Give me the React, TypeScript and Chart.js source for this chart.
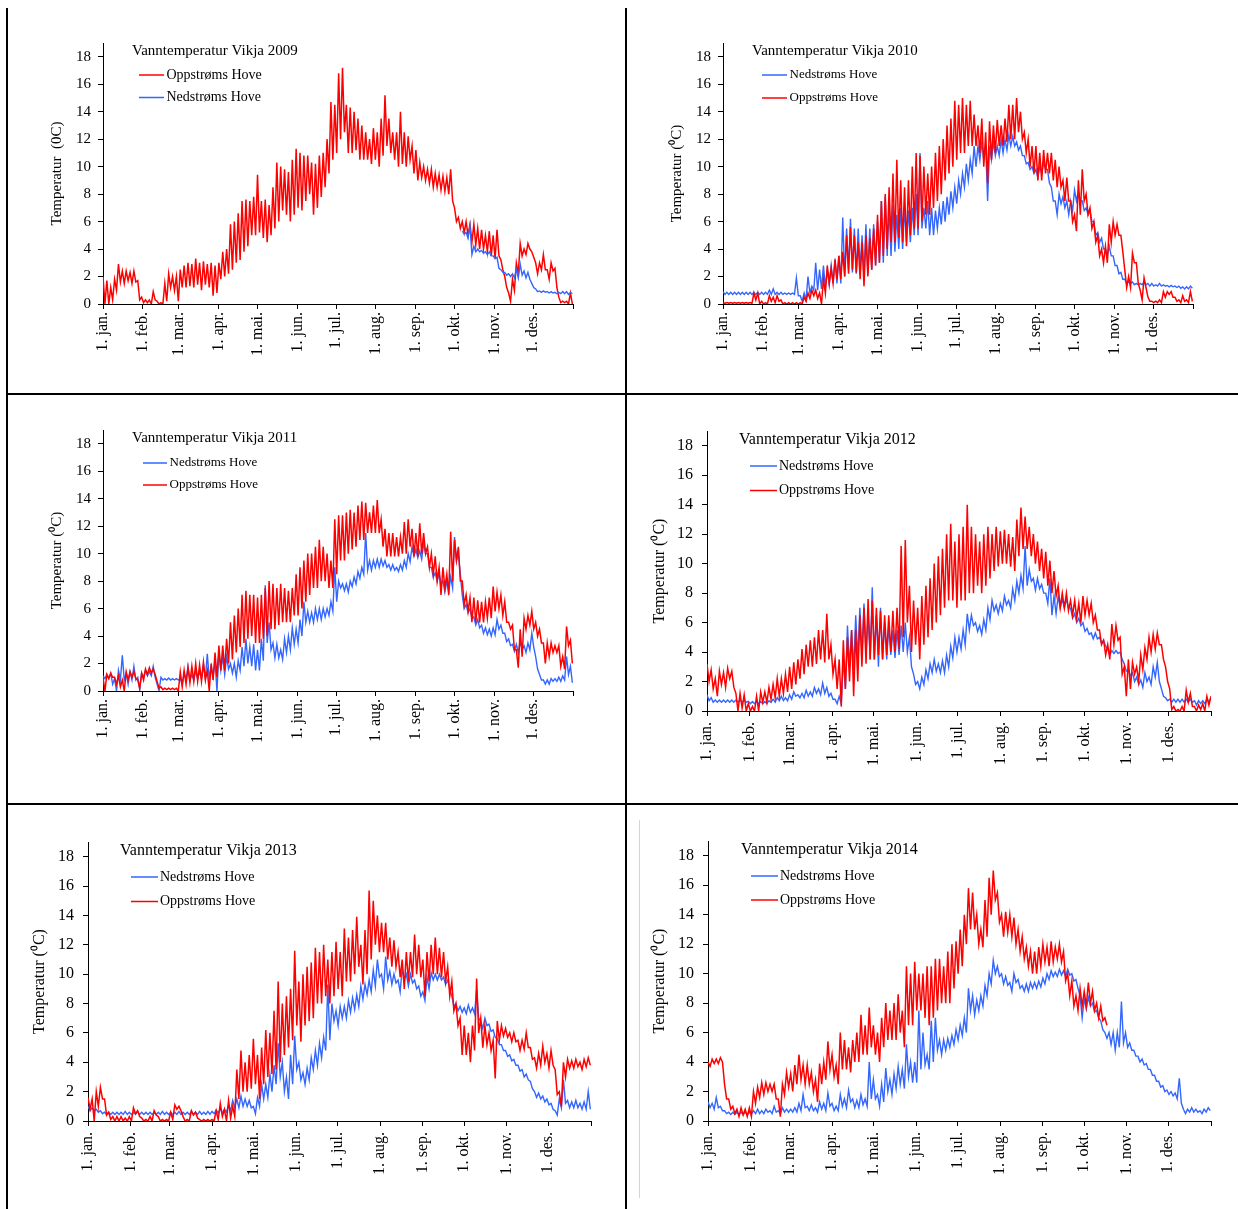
import React, { useEffect, useRef } from "react";
import { Chart, registerables } from "chart.js";

Chart.register(...registerables);

const FONT = '"Liberation Serif", "Times New Roman", Times, serif';
const STEP_DAYS = 3; // one high/low reading pair every 3rd day from 1 Jan
const MONTH_LABELS = ["1. jan.", "1. feb.", "1. mar.", "1. apr.", "1. mai.", "1. jun.", "1. jul.", "1. aug.", "1. sep.", "1. okt.", "1. nov.", "1. des."];
const MONTH_STARTS = [0, 31, 59, 90, 120, 151, 181, 212, 243, 273, 304, 334];
const MONTH_STARTS_LEAP = [0, 31, 60, 91, 121, 152, 182, 213, 244, 274, 305, 335];
const YEAR_END = 365;
const LEAP_YEAR_END = 366;
const Y_MAX = 19;
const Y_STEP = 2;
const UP_LABEL = "Oppstrøms Hove";
const DOWN_LABEL = "Nedstrøms Hove";
const RED = "#FF0000";
const BLUE = "#3366FF";

// ---- 2009 ----
const UP_2009_HIGH = [
  2.0, 1.7, 1.2, 1.8, 2.9, 2.4, 2.4, 2.3, 2.4, 1.7,
  0.5, 0.3, 0.3, 0.9, 0.2, 0.1, 1.5, 2.2, 2.0, 2.0,
  2.5, 2.8, 3.0, 2.9, 3.3, 3.0, 3.1, 2.9, 3.0, 2.8,
  3.0, 3.8, 4.0, 5.8, 6.0, 6.6, 7.5, 7.6, 7.5, 7.8,
  9.4, 7.5, 7.6, 7.2, 8.5, 10.3, 10.0, 9.8, 9.6, 10.5,
  11.3, 11.0, 10.8, 10.8, 10.3, 10.2, 10.8, 11.0, 12.0, 14.7,
  14.5, 16.8, 17.2, 14.5, 14.3, 14.0, 13.5, 13.0, 12.5, 12.0,
  12.8, 12.5, 13.5, 15.2, 13.5, 12.5, 12.5, 14.0, 12.5, 12.2,
  11.5, 11.2, 10.3, 10.0, 9.8, 9.8, 9.5, 9.4, 9.3, 9.2,
  9.8, 7.0, 6.3, 6.0, 6.0, 5.8, 5.8, 5.5, 5.4, 5.0,
  5.3, 5.0, 5.4, 3.2, 2.0, 0.8, 1.8, 3.0, 4.4, 4.0,
  4.4, 3.8, 3.0, 3.0, 3.6, 2.5, 3.0, 2.6, 0.5, 0.2,
  0.2, 0.8,
];
const UP_2009_LOW = [
  0.0, 0.0, 0.3, 1.0, 1.6, 1.5, 1.7, 1.5, 1.6, 0.3,
  0.1, 0.1, 0.0, 0.3, 0.0, 0.0, 0.2, 1.2, 1.0, 0.2,
  1.2, 1.2, 1.3, 1.2, 1.4, 1.0, 1.4, 1.2, 0.6, 0.8,
  1.8, 2.0, 2.2, 2.5, 3.0, 3.2, 3.8, 4.2, 5.0, 5.0,
  5.2, 4.8, 4.5, 5.0, 5.5, 6.0, 6.8, 6.5, 6.0, 6.5,
  7.0, 6.8, 7.5, 8.0, 6.5, 7.0, 7.8, 8.5, 9.5, 10.5,
  11.0, 12.0, 12.5, 11.0, 11.0, 11.2, 10.5, 10.5, 10.5, 10.2,
  10.5, 10.0, 10.8, 11.5, 11.0, 10.5, 10.0, 10.2, 10.0, 10.5,
  9.5, 9.0, 9.2, 9.0, 8.8, 8.5, 8.5, 8.3, 8.2, 8.0,
  7.5, 6.0, 5.5, 5.2, 5.0, 4.5, 4.3, 4.0, 4.0, 3.8,
  3.5, 3.3, 3.5, 2.5, 1.2, 0.2, 1.0, 2.2, 3.5, 3.6,
  4.0, 3.4, 2.2, 2.5, 2.5, 1.8, 2.4, 1.2, 0.1, 0.1,
  0.0, 0.0,
];
const DOWN_2009_FIRST_DAY = 279;
const DOWN_2009_HIGH = [
  5.3, 5.2, 5.7, 4.2, 4.0, 3.9, 3.8,
  3.8, 3.5, 3.4, 2.5, 2.3, 2.2, 2.2, 2.5, 2.9, 2.4,
  2.3, 1.5, 1.1, 0.95, 0.95, 0.9, 0.9, 0.85, 0.85, 0.9,
  0.9, 0.85,
];
const DOWN_2009_LOW = [
  5.1, 4.8, 3.6, 3.8, 3.8, 3.7, 3.6,
  3.5, 3.3, 2.6, 2.3, 2.1, 2.0, 1.9, 1.9, 2.1, 1.9,
  1.8, 1.2, 0.9, 0.85, 0.85, 0.8, 0.8, 0.75, 0.75, 0.75,
  0.7, 0.75,
];

// ---- 2010 ----
const UP_2010_HIGH = [
  0.1, 0.1, 0.1, 0.1, 0.1, 0.1, 0.1, 0.1, 0.8, 0.8,
  0.2, 0.1, 0.6, 0.5, 0.6, 0.3, 0.1, 0.1, 0.1, 0.1,
  0.1, 0.5, 0.8, 1.0, 1.0, 0.8, 1.8, 2.8, 2.6, 3.2,
  3.5, 3.8, 5.0, 5.6, 5.0, 4.5, 4.5, 5.0, 4.8, 5.5,
  6.5, 7.5, 8.0, 8.5, 9.5, 10.5, 9.0, 8.5, 9.0, 10.0,
  11.0, 10.8, 10.0, 9.5, 10.0, 11.0, 11.5, 12.0, 13.0, 13.5,
  14.8, 14.5, 15.0, 14.5, 14.8, 13.8, 13.0, 13.5, 12.5, 13.3,
  13.0, 13.4, 13.0, 13.5, 14.5, 14.5, 15.0, 14.0, 12.5, 12.0,
  11.5, 11.5, 11.0, 11.2, 11.0, 11.0, 10.5, 10.0, 9.0, 9.2,
  7.5, 6.5, 9.0, 9.8, 8.0, 7.0, 6.0, 5.0, 4.0, 4.2,
  5.8, 6.0, 5.8, 5.0, 2.5, 2.0, 3.7, 3.0, 1.0, 1.9,
  0.5, 0.2, 0.2, 0.3, 0.9, 0.9, 0.9, 0.5, 0.3, 0.6,
  0.3, 0.9,
];
const UP_2010_LOW = [
  0.05, 0.05, 0.05, 0.05, 0.05, 0.05, 0.05, 0.05, 0.3, 0.0,
  0.0, 0.0, 0.2, 0.1, 0.2, 0.0, 0.0, 0.0, 0.0, 0.0,
  0.0, 0.2, 0.4, 0.6, 0.4, 0.0, 0.8, 1.5, 1.5, 1.8,
  1.8, 2.0, 2.2, 2.5, 2.3, 1.8, 1.3, 2.0, 2.5, 2.8,
  3.0, 3.5, 4.0, 4.5, 4.5, 4.8, 4.5, 4.2, 5.0, 5.5,
  5.5, 6.0, 6.5, 6.5, 7.0, 7.5, 8.0, 9.0, 9.5, 10.0,
  10.5, 11.0, 11.0, 11.5, 11.5, 11.5, 11.0, 10.0, 8.8, 10.5,
  11.0, 11.5, 11.5, 11.8, 12.0, 12.0, 12.5, 12.0, 11.0, 10.0,
  9.5, 9.0, 9.0, 9.5, 9.5, 9.0, 8.5, 8.5, 7.5, 7.5,
  6.0, 5.3, 6.5, 7.5, 6.5, 5.5, 4.5, 3.5, 3.0, 3.0,
  4.5, 5.0, 5.0, 3.8, 1.2, 1.2, 3.0, 1.5, 0.3, 1.2,
  0.2, 0.1, 0.1, 0.1, 0.5, 0.7, 0.5, 0.2, 0.1, 0.2,
  0.1, 0.2,
];
const DOWN_2010_HIGH = [
  0.9, 0.85, 0.85, 0.85, 0.85, 0.85, 0.85, 0.85, 0.85, 0.85,
  0.85, 0.85, 1.0, 1.1, 0.85, 0.85, 0.8, 0.8, 0.8, 1.9,
  0.6, 0.8, 2.0, 1.3, 3.0, 2.5, 2.8, 2.5, 2.8, 3.3,
  3.5, 6.3, 5.5, 6.2, 5.5, 5.5, 5.0, 5.8, 5.5, 5.8,
  6.0, 7.5, 7.8, 7.0, 7.2, 6.5, 7.0, 7.0, 6.8, 7.0,
  8.0, 11.0, 7.0, 7.5, 7.0, 6.8, 7.0, 7.5, 7.8, 8.2,
  8.5, 9.0, 9.5, 10.2, 10.5, 11.5, 11.5, 11.8, 11.5, 11.5,
  11.8, 11.5, 12.0, 12.0, 12.3, 12.2, 11.8, 11.5, 10.8, 10.3,
  10.0, 9.8, 10.0, 10.3, 9.8, 8.5, 7.5, 8.0, 7.8, 7.5,
  7.5, 8.3, 8.2, 7.5, 7.0, 6.8, 6.0, 5.2, 4.8, 4.0,
  4.2, 3.5, 2.8, 2.3, 1.8, 1.6, 1.6, 1.5, 1.5, 1.6,
  1.5, 1.5, 1.4, 1.5, 1.4, 1.35, 1.35, 1.3, 1.3, 1.25,
  1.25, 1.3,
];
const DOWN_2010_LOW = [
  0.7, 0.7, 0.7, 0.7, 0.7, 0.7, 0.7, 0.7, 0.7, 0.7,
  0.7, 0.7, 0.7, 0.7, 0.7, 0.7, 0.7, 0.7, 0.7, 0.6,
  0.2, 0.3, 0.8, 1.0, 1.0, 1.1, 1.2, 1.4, 1.5, 1.5,
  1.5, 2.0, 2.5, 2.3, 2.2, 2.5, 2.0, 2.2, 2.5, 2.8,
  3.0, 3.0, 3.5, 3.5, 3.8, 4.0, 4.0, 4.5, 4.5, 5.0,
  5.0, 5.5, 5.5, 5.0, 5.0, 5.5, 5.8, 6.0, 6.5, 7.0,
  7.3, 8.0, 8.5, 9.0, 9.5, 10.0, 10.5, 10.5, 7.5, 10.5,
  10.8, 10.8, 11.0, 11.2, 11.5, 11.5, 11.2, 10.8, 10.2, 9.8,
  9.5, 9.2, 9.5, 9.8, 8.8, 7.5, 6.5, 7.3, 7.0, 6.5,
  6.8, 7.5, 7.5, 6.8, 6.5, 6.0, 5.0, 4.5, 4.0, 3.5,
  3.5, 2.8, 2.2, 1.8, 1.5, 1.5, 1.4, 1.4, 1.4, 1.4,
  1.3, 1.3, 1.3, 1.3, 1.3, 1.25, 1.25, 1.2, 1.15, 1.1,
  1.1, 1.15,
];

// ---- 2011 ----
const UP_2011_HIGH = [
  1.0, 1.2, 1.3, 1.0, 1.1, 0.8, 1.4, 1.4, 1.4, 0.8,
  1.3, 1.6, 1.7, 1.6, 0.7, 0.3, 0.2, 0.2, 0.2, 0.2,
  1.4, 1.5, 1.7, 1.8, 2.0, 1.9, 2.1, 1.5, 2.0, 2.8,
  3.3, 3.3, 3.8, 5.0, 5.5, 6.0, 7.0, 7.3, 7.0, 7.0,
  6.8, 7.0, 7.5, 8.0, 7.8, 7.5, 7.8, 7.5, 7.3, 7.5,
  8.5, 9.0, 9.5, 10.0, 10.0, 10.5, 11.0, 10.5, 10.0, 9.5,
  12.5, 12.8, 12.8, 13.0, 13.2, 13.0, 13.5, 13.8, 13.7, 13.0,
  13.5, 13.9, 12.5, 11.8, 11.5, 11.5, 11.2, 11.2, 12.3, 12.5,
  11.8, 11.5, 12.2, 11.5, 10.5, 10.0, 9.8, 9.0, 9.0, 8.5,
  11.6, 11.0, 10.5, 8.0, 7.0, 6.8, 6.8, 6.6, 6.5, 6.5,
  6.8, 7.6, 7.2, 7.0, 6.5, 5.0, 4.8, 3.0, 4.5, 5.3,
  5.5, 5.8, 5.0, 4.5, 3.5, 3.5, 3.5, 3.3, 3.3, 2.5,
  4.7, 3.7,
];
const UP_2011_LOW = [
  0.0, 0.9, 1.0, 0.5, 0.3, 0.0, 0.8, 1.0, 0.9, 0.2,
  0.8, 1.2, 1.3, 1.2, 0.2, 0.1, 0.1, 0.1, 0.1, 0.0,
  0.3, 0.5, 0.6, 0.7, 0.7, 0.7, 0.8, 0.0, 0.8, 1.0,
  1.5, 1.5, 2.0, 2.3, 2.8, 3.2, 3.5, 3.8, 4.0, 3.5,
  3.5, 3.8, 4.0, 4.5, 4.5, 4.8, 5.0, 5.0, 5.0, 5.5,
  5.5, 6.0, 6.5, 7.0, 7.5, 7.5, 8.0, 8.0, 7.5, 7.5,
  8.5, 9.5, 9.5, 10.0, 10.3, 10.5, 11.0, 11.0, 11.5, 11.5,
  11.5, 11.5, 10.5, 9.8, 9.8, 9.8, 9.8, 10.0, 10.0, 10.5,
  9.8, 9.8, 10.0, 10.0, 9.0, 8.5, 8.0, 7.0, 7.5, 7.0,
  8.0, 9.5, 8.0, 6.3, 5.8, 5.0, 5.0, 5.0, 5.0, 5.3,
  5.3, 5.8, 6.0, 5.5, 5.0, 4.5, 3.0, 1.7, 2.5, 4.5,
  4.8, 4.5, 4.0, 3.5, 2.0, 2.5, 2.8, 2.8, 1.8, 1.6,
  3.3, 2.0,
];
const DOWN_2011_HIGH = [
  1.1, 1.2, 1.3, 0.9, 1.5, 2.6, 1.3, 1.4, 1.8, 1.0,
  1.3, 1.5, 1.4, 1.8, 0.5, 1.0, 0.9, 0.95, 0.9, 0.9,
  0.9, 1.3, 1.8, 1.2, 1.5, 1.4, 1.9, 2.7, 1.8, 2.2,
  2.8, 2.5, 2.5, 2.0, 2.0, 2.2, 3.2, 3.8, 3.2, 3.4,
  3.0, 3.8, 7.7, 5.0, 3.5, 3.4, 3.0, 3.8, 4.0, 4.6,
  4.5, 5.2, 6.5, 5.8, 5.7, 6.0, 6.0, 6.0, 6.0, 6.5,
  9.0, 8.0, 7.8, 7.8, 8.0, 8.3, 8.7, 9.0, 11.5, 9.5,
  9.5, 9.6, 9.6, 9.5, 9.2, 9.2, 9.0, 9.2, 9.5, 10.0,
  10.5, 10.3, 10.2, 10.8, 10.0, 9.0, 8.6, 8.6, 8.0, 8.0,
  8.3, 11.2, 10.0, 7.0, 6.3, 6.0, 5.4, 5.2, 4.8, 4.6,
  4.5, 4.6, 5.2, 4.8, 4.2, 3.8, 3.4, 3.4, 3.6, 3.3,
  3.5, 4.2, 2.5, 1.2, 0.8, 0.8, 0.9, 0.9, 1.0, 1.1,
  2.5, 1.8,
];
const DOWN_2011_LOW = [
  0.9, 0.9, 0.5, 0.0, 0.8, 0.8, 0.5, 0.8, 0.8, 0.1,
  1.0, 1.1, 1.1, 1.0, 0.0, 0.8, 0.8, 0.8, 0.8, 0.8,
  0.5, 0.8, 0.8, 0.8, 0.9, 0.9, 0.9, 0.9, 1.0, 0.0,
  1.5, 1.2, 1.6, 1.3, 1.0, 1.5, 1.8, 2.0, 1.8, 1.5,
  1.5, 2.2, 3.5, 3.0, 2.4, 2.4, 2.3, 2.8, 3.0, 3.4,
  3.5, 4.0, 5.0, 5.0, 5.0, 5.2, 5.2, 5.4, 5.5, 5.8,
  6.5, 7.5, 7.3, 7.2, 7.6, 7.8, 8.2, 8.5, 8.8, 8.8,
  9.0, 9.0, 9.1, 9.0, 8.8, 8.8, 8.7, 8.8, 9.0, 9.4,
  9.8, 9.7, 9.6, 10.0, 9.0, 8.3, 8.0, 7.8, 7.2, 7.2,
  7.5, 9.5, 8.5, 6.0, 5.7, 5.3, 4.8, 4.6, 4.2, 4.1,
  4.0, 4.1, 4.5, 4.2, 3.6, 3.3, 2.9, 2.8, 3.0, 2.8,
  3.0, 3.2, 1.6, 0.8, 0.5, 0.5, 0.7, 0.7, 0.7, 0.8,
  1.2, 0.6,
];

// ---- 2012 (leap year) ----
const UP_2012_HIGH = [
  3.2, 2.8, 2.2, 2.7, 2.6, 2.9, 2.7, 1.2, 1.2, 1.1,
  0.5, 0.3, 1.0, 1.3, 1.3, 1.6, 1.8, 2.2, 2.2, 2.5,
  3.0, 3.3, 3.5, 4.2, 4.5, 4.8, 5.0, 5.5, 5.5, 6.6,
  4.5, 3.5, 3.5, 4.8, 5.0, 5.5, 5.5, 6.5, 7.0, 7.6,
  7.5, 7.0, 6.8, 6.5, 6.5, 6.8, 7.0, 11.2, 11.6, 8.5,
  7.5, 7.0, 7.8, 8.5, 9.0, 10.0, 10.5, 11.0, 12.0, 12.7,
  11.5, 12.0, 12.5, 14.0, 12.5, 12.0, 11.5, 12.0, 12.5, 12.0,
  12.5, 12.2, 12.3, 12.0, 11.8, 13.0, 13.8, 13.2, 12.5, 12.0,
  11.5, 11.0, 10.8, 10.2, 9.5, 8.5, 8.0, 8.0, 7.5, 7.5,
  7.3, 7.8, 7.5, 7.3, 6.5, 5.5, 4.8, 4.5, 5.9, 5.8,
  5.0, 3.0, 3.5, 3.3, 3.0, 3.8, 4.3, 5.0, 5.2, 5.3,
  4.5, 3.0, 1.5, 0.3, 0.1, 0.3, 1.4, 1.2, 0.3, 0.4,
  0.5, 1.0, 1.0,
];
const UP_2012_LOW = [
  2.0, 1.5, 1.0, 1.8, 1.6, 2.2, 1.6, 0.0, 0.2, 0.0,
  0.0, 0.0, 0.0, 0.6, 0.6, 0.8, 0.9, 1.0, 1.2, 1.3,
  1.5, 1.8, 2.2, 2.5, 3.0, 3.0, 3.2, 3.5, 3.3, 3.5,
  2.5, 1.5, 0.3, 1.5, 2.0, 1.0, 2.0, 3.0, 3.2, 3.5,
  3.5, 3.8, 3.5, 3.8, 4.0, 4.0, 4.2, 5.0, 6.0, 4.0,
  4.5, 3.5, 4.5, 5.0, 5.5, 6.0, 6.5, 7.0, 7.5, 7.5,
  7.0, 7.5, 7.5, 8.0, 8.0, 8.5, 8.0, 8.5, 9.0, 9.5,
  9.8, 10.0, 10.0, 9.8, 9.5, 10.5, 11.0, 11.0, 10.5, 10.0,
  9.5, 9.0, 8.5, 8.0, 7.8, 7.0, 7.0, 6.8, 6.5, 6.3,
  6.0, 6.5, 6.5, 6.0, 5.5, 4.5, 3.8, 3.5, 4.5, 4.8,
  2.5, 1.0, 1.5, 2.5, 2.0, 2.8, 3.5, 4.0, 4.2, 4.5,
  3.5, 2.0, 0.1, 0.0, 0.0, 0.0, 0.6, 0.3, 0.0, 0.1,
  0.0, 0.4, 0.1,
];
const DOWN_2012_HIGH = [
  1.1, 0.9, 0.75, 0.75, 0.75, 0.75, 0.75, 0.75, 0.75, 0.75,
  0.65, 0.65, 0.65, 0.65, 0.65, 0.7, 0.8, 0.9, 1.0, 0.9,
  1.1, 1.3, 1.1, 1.2, 1.4, 1.3, 1.6, 1.5, 1.9, 1.6,
  1.2, 0.8, 1.0, 3.5, 5.8, 5.5, 6.5, 7.0, 7.3, 6.5,
  8.4, 6.5, 7.0, 6.0, 5.8, 5.5, 5.5, 5.8, 6.0, 5.0,
  2.5, 2.0, 2.3, 2.8, 3.2, 3.5, 3.2, 3.4, 3.8, 4.4,
  5.0, 5.0, 5.5, 6.6, 6.5, 6.0, 5.8, 6.2, 7.0, 7.5,
  7.2, 7.3, 7.8, 7.5, 8.3, 8.8, 9.2, 11.2, 9.6, 9.0,
  9.0, 8.6, 8.0, 9.0, 7.8, 7.8, 7.6, 7.6, 7.0, 6.6,
  6.3, 6.0, 5.6, 5.3, 5.3, 5.0, 4.8, 4.2, 4.1, 4.1,
  4.0, 3.2, 2.8, 2.6, 2.3, 2.1, 2.6, 2.3, 3.0, 3.3,
  1.5, 0.9, 0.8, 0.8, 0.8, 0.8, 0.8, 0.8, 0.7, 0.7,
  0.7, 0.8, 0.9,
];
const DOWN_2012_LOW = [
  0.7, 0.6, 0.6, 0.6, 0.6, 0.6, 0.6, 0.6, 0.6, 0.6,
  0.5, 0.5, 0.5, 0.5, 0.5, 0.6, 0.6, 0.7, 0.7, 0.7,
  0.8, 1.0, 0.9, 0.9, 1.0, 1.0, 1.2, 1.1, 1.2, 1.0,
  0.8, 0.5, 0.5, 1.5, 3.0, 2.8, 3.5, 3.8, 4.0, 3.5,
  3.5, 3.0, 3.5, 3.5, 3.8, 3.6, 3.8, 4.0, 4.0, 3.0,
  1.8, 1.5, 1.8, 2.2, 2.6, 2.7, 2.6, 2.6, 3.0, 3.6,
  4.0, 4.2, 4.5, 5.5, 5.8, 5.4, 5.2, 5.5, 6.2, 6.8,
  6.6, 6.8, 7.2, 7.0, 7.5, 8.0, 8.3, 8.5, 8.8, 8.2,
  8.3, 8.0, 7.3, 6.5, 6.6, 7.0, 7.0, 7.0, 6.3, 6.0,
  5.8, 5.4, 5.2, 4.9, 4.9, 4.6, 4.4, 3.8, 3.9, 3.9,
  3.5, 2.7, 2.4, 2.0, 1.8, 1.6, 2.0, 1.8, 2.3, 2.0,
  1.0, 0.7, 0.6, 0.6, 0.6, 0.6, 0.6, 0.6, 0.4, 0.5,
  0.5, 0.6, 0.7,
];

// ---- 2013 ----
const UP_2013_HIGH = [
  1.6, 1.5, 2.0, 2.3, 1.5, 0.6, 0.3, 0.3, 0.3, 0.2,
  0.3, 0.9, 0.7, 0.2, 0.1, 0.3, 0.7, 0.3, 0.1, 0.1,
  0.6, 1.1, 1.0, 0.3, 0.1, 0.7, 0.6, 0.1, 0.1, 0.1,
  0.1, 0.7, 1.2, 0.8, 1.4, 1.0, 3.5, 4.8, 4.0, 4.5,
  5.6, 4.5, 5.0, 6.2, 6.0, 7.5, 9.5, 8.0, 8.5, 9.0,
  11.6, 9.5, 10.0, 10.5, 10.8, 11.8, 11.5, 12.0, 11.0, 11.5,
  12.2, 11.5, 13.1, 12.5, 13.0, 13.9, 12.0, 13.0, 15.7, 15.0,
  14.0, 13.5, 13.5, 12.5, 12.3, 11.5, 11.0, 11.5, 11.5, 12.7,
  12.0, 11.0, 11.5, 12.0, 12.5, 11.8, 11.5, 10.5, 9.5, 8.0,
  7.0, 6.5, 6.0, 6.5, 9.7, 7.0, 6.5, 6.0, 5.5, 6.8,
  6.5, 6.3, 6.0, 6.0, 5.5, 5.5, 6.0, 5.0, 4.3, 4.6,
  5.1, 4.6, 4.8, 3.5, 2.0, 4.0, 4.2, 4.1, 4.2, 4.0,
  4.2, 4.3,
];
const UP_2013_LOW = [
  0.8, 0.0, 1.0, 1.5, 0.4, 0.1, 0.0, 0.0, 0.0, 0.0,
  0.0, 0.5, 0.3, 0.0, 0.0, 0.0, 0.4, 0.0, 0.0, 0.0,
  0.1, 0.8, 0.7, 0.0, 0.0, 0.4, 0.2, 0.0, 0.0, 0.0,
  0.0, 0.1, 0.3, 0.0, 0.2, 0.3, 1.5, 2.0, 2.0, 2.2,
  2.5, 1.5, 2.5, 3.0, 3.2, 3.5, 4.0, 4.5, 5.0, 5.5,
  6.5, 5.4, 6.5, 6.8, 7.0, 8.0, 8.0, 8.5, 8.0, 8.5,
  9.0, 8.5, 9.5, 9.5, 10.0, 10.5, 9.3, 10.0, 11.0, 12.0,
  11.5, 11.5, 11.0, 10.5, 10.5, 9.8, 9.0, 9.5, 9.8, 10.0,
  9.8, 8.5, 9.5, 10.0, 10.0, 9.8, 9.5, 8.5, 7.5, 6.5,
  4.5, 4.5, 4.0, 4.8, 6.0, 5.0, 5.2, 4.8, 2.9, 5.5,
  5.8, 5.7, 5.4, 5.4, 4.8, 4.9, 5.0, 4.2, 3.6, 3.8,
  4.0, 3.6, 3.8, 1.8, 1.0, 3.0, 3.6, 3.6, 3.7, 3.5,
  3.7, 3.8,
];
const DOWN_2013_HIGH = [
  1.0, 0.9, 0.8, 0.7, 0.6, 0.6, 0.6, 0.6, 0.6, 0.65,
  0.6, 0.6, 0.65, 0.6, 0.6, 0.6, 0.6, 0.6, 0.65, 0.6,
  0.6, 0.6, 0.65, 0.6, 0.6, 0.65, 0.6, 0.65, 0.6, 0.65,
  0.65, 0.75, 0.8, 0.8, 1.1, 1.4, 1.5, 1.7, 1.5, 1.4,
  1.0, 1.6, 2.5, 2.5, 3.2, 3.8, 5.3, 4.0, 3.0, 4.5,
  5.8, 4.0, 3.3, 3.6, 4.3, 4.8, 5.3, 5.7, 9.3, 8.0,
  7.5, 7.8, 7.8, 8.2, 8.4, 8.6, 9.2, 9.3, 9.6, 10.3,
  11.0, 10.0, 11.2, 10.2, 10.0, 9.6, 10.4, 10.0, 10.0, 9.6,
  9.2, 8.8, 9.8, 10.1, 10.0, 10.0, 9.8, 9.6, 8.5, 8.0,
  7.8, 7.7, 7.9, 7.7, 8.9, 6.8, 7.0, 6.6, 6.2, 5.6,
  5.2, 4.8, 4.5, 4.2, 3.8, 3.5, 3.2, 2.7, 2.0, 1.9,
  1.7, 1.5, 1.2, 0.7, 1.5, 2.8, 1.4, 1.3, 1.4, 1.2,
  1.3, 2.0,
];
const DOWN_2013_LOW = [
  0.7, 0.7, 0.6, 0.5, 0.45, 0.45, 0.45, 0.45, 0.45, 0.45,
  0.45, 0.45, 0.45, 0.45, 0.45, 0.45, 0.45, 0.45, 0.45, 0.45,
  0.45, 0.45, 0.45, 0.45, 0.45, 0.45, 0.45, 0.45, 0.45, 0.45,
  0.5, 0.55, 0.55, 0.6, 0.7, 0.9, 0.9, 1.0, 1.0, 0.9,
  0.5, 1.0, 1.5, 1.6, 2.0, 2.5, 3.0, 2.0, 1.5, 2.5,
  3.5, 2.8, 2.5, 2.8, 3.5, 3.8, 4.3, 4.8, 5.5, 6.8,
  6.5, 7.0, 7.0, 7.4, 7.6, 7.8, 8.3, 8.6, 8.8, 9.2,
  9.8, 9.0, 9.6, 9.3, 9.4, 8.8, 9.6, 9.2, 9.4, 9.0,
  8.5, 8.2, 9.0, 9.6, 9.6, 9.6, 9.3, 9.0, 7.8, 7.5,
  7.4, 7.3, 7.4, 7.3, 7.0, 6.3, 6.5, 6.1, 5.7, 5.2,
  4.8, 4.4, 4.1, 3.8, 3.4, 3.0, 2.8, 2.2, 1.6, 1.5,
  1.3, 1.1, 0.8, 0.4, 0.9, 1.2, 0.9, 0.9, 0.9, 0.8,
  0.8, 0.8,
];

// ---- 2014 ----
const UP_2014_HIGH = [
  4.0, 4.2, 4.2, 4.3, 2.5, 1.5, 1.0, 0.8, 0.9, 0.8,
  0.9, 2.0, 2.3, 2.6, 2.6, 2.5, 2.5, 1.5, 2.5, 3.3,
  3.2, 3.8, 4.5, 3.8, 3.8, 3.3, 2.8, 3.9, 4.0, 5.4,
  4.5, 3.8, 6.0, 5.5, 5.0, 5.5, 6.0, 7.2, 6.5, 7.7,
  6.5, 6.0, 7.0, 8.0, 7.5, 8.0, 8.6, 7.5, 10.5, 10.0,
  10.8, 10.0, 10.0, 10.5, 10.5, 11.0, 11.0, 10.5, 11.5, 12.0,
  12.2, 13.0, 14.0, 15.8, 15.5, 14.0, 13.0, 15.0, 16.5, 17.0,
  15.5, 14.0, 14.2, 14.0, 13.8, 13.0, 12.5, 11.8, 11.5, 11.5,
  11.8, 12.0, 11.8, 12.2, 11.8, 12.0, 11.5, 10.0, 9.5, 8.5,
  9.0, 8.8, 9.4, 8.8, 8.0, 7.8, 7.0,
];
const UP_2014_LOW = [
  3.7, 3.9, 3.9, 4.0, 1.5, 0.8, 0.5, 0.3, 0.4, 0.3,
  0.3, 1.2, 1.6, 1.8, 2.0, 2.0, 1.5, 0.3, 1.8, 2.3,
  2.0, 2.5, 2.8, 2.5, 2.5, 2.0, 1.3, 2.5, 2.8, 3.5,
  3.0, 2.5, 3.5, 3.5, 3.3, 4.0, 4.0, 4.5, 4.5, 5.0,
  4.5, 4.0, 5.0, 5.5, 5.5, 5.5, 6.0, 5.0, 6.5, 6.5,
  7.5, 7.5, 7.0, 6.5, 7.0, 7.5, 8.0, 8.0, 8.0, 9.0,
  10.0, 10.5, 12.0, 13.0, 13.0, 12.0, 11.8, 12.5, 14.0, 15.0,
  13.5, 12.5, 12.8, 12.5, 12.0, 11.5, 11.0, 10.5, 10.0, 10.0,
  10.5, 10.8, 10.5, 10.8, 11.0, 10.8, 9.5, 8.5, 7.8, 7.5,
  7.8, 7.8, 8.0, 7.5, 7.0, 6.8, 6.5,
];
const DOWN_2014_HIGH = [
  1.3, 1.2, 1.6, 1.0, 0.7, 0.6, 0.6, 0.6, 0.6, 0.6,
  0.6, 0.7, 0.8, 0.7, 0.8, 0.7, 1.0, 0.7, 0.9, 0.8,
  0.8, 0.9, 1.2, 1.8, 1.0, 1.1, 0.9, 1.3, 1.2, 1.9,
  1.2, 1.0, 1.8, 1.5, 2.1, 1.5, 1.4, 1.8, 1.5, 4.0,
  2.8, 1.8, 2.5, 3.6, 2.8, 3.2, 3.7, 3.5, 5.2, 4.0,
  4.0, 7.5, 6.0, 4.5, 6.8, 7.0, 5.5, 5.5, 5.6, 5.8,
  6.2, 6.5, 7.0, 9.0, 8.5, 8.2, 8.5, 9.2, 10.0, 10.9,
  10.5, 10.0, 9.8, 9.4, 10.0, 9.6, 9.2, 9.3, 9.4, 9.4,
  9.5, 9.7, 10.0, 10.2, 10.1, 10.3, 10.2, 10.3, 10.0, 9.6,
  8.5, 8.3, 8.4, 8.0, 7.5, 6.8, 6.0, 6.0, 6.0, 6.0,
  8.1, 6.0, 5.3, 4.8, 4.4, 4.2, 3.9, 3.5, 3.1, 2.7,
  2.4, 2.1, 2.0, 1.9, 2.9, 0.8, 0.8, 0.9, 0.8, 0.7,
  0.8, 0.9,
];
const DOWN_2014_LOW = [
  0.9, 0.8, 0.9, 0.7, 0.5, 0.45, 0.45, 0.45, 0.45, 0.45,
  0.45, 0.5, 0.5, 0.5, 0.6, 0.5, 0.6, 0.5, 0.6, 0.6,
  0.6, 0.6, 0.7, 0.9, 0.7, 0.7, 0.6, 0.8, 0.7, 1.0,
  0.7, 0.7, 1.0, 0.9, 1.3, 0.9, 0.9, 1.1, 1.0, 1.5,
  1.5, 1.0, 1.3, 2.0, 1.8, 2.2, 2.5, 2.2, 3.0, 2.6,
  2.6, 3.5, 3.8, 3.5, 4.0, 4.8, 4.5, 4.8, 5.0, 5.2,
  5.5, 5.8, 6.0, 7.5, 7.2, 7.5, 7.8, 8.5, 9.3, 10.0,
  9.8, 9.3, 9.2, 8.8, 9.4, 9.0, 8.8, 8.8, 9.0, 9.0,
  9.1, 9.3, 9.6, 9.8, 9.8, 9.9, 9.8, 9.9, 9.5, 9.0,
  7.0, 7.6, 7.8, 7.4, 7.0, 6.2, 5.6, 5.2, 4.8, 5.0,
  5.3, 5.0, 4.8, 4.4, 4.0, 3.8, 3.5, 3.1, 2.7, 2.3,
  2.0, 1.8, 1.7, 1.5, 1.2, 0.5, 0.6, 0.6, 0.6, 0.5,
  0.6, 0.7,
];

type Key = "up" | "down";
interface Rect { x: number; y: number; w: number; h: number }
interface Area { l: number; r: number; t: number; b: number }
interface PanelSpec {
  title: string;
  upHigh: number[];
  upLow: number[];
  downHigh: number[];
  downLow: number[];
  upStart: number;
  downStart: number;
  monthStarts: number[];
  yearEnd: number;
  yTitle: string;
  rect: Rect;
  area: Area;
  titleX: number;
  titleY: number;
  titleSize: number;
  legendOrder: Key[];
  legendX1: number;
  legendX2: number;
  legendTextX: number;
  legendY: number[];
  legendSize: number;
  tickSize: number;
  xTickSize: number;
  yTitleSize: number;
  yTitleX: number;
  yTickPad: number;
  xTickPad: number;
  upOnTop: boolean;
}

const PANELS: PanelSpec[] = [
  {
    title: "Vanntemperatur Vikja 2009", upHigh: UP_2009_HIGH, upLow: UP_2009_LOW, downHigh: DOWN_2009_HIGH, downLow: DOWN_2009_LOW,
    upStart: 0, downStart: DOWN_2009_FIRST_DAY,
    monthStarts: MONTH_STARTS, yearEnd: YEAR_END, yTitle: "Temperatur  (0C)",
    rect: { x: 8, y: 8, w: 612, h: 384 }, area: { l: 103, r: 573, t: 43, b: 304 },
    titleX: 132, titleY: 51.5, titleSize: 15,
    legendOrder: ["up", "down"], legendX1: 139, legendX2: 164, legendTextX: 166.5, legendY: [75, 97.5], legendSize: 14,
    tickSize: 15, xTickSize: 16, yTitleSize: 15, yTitleX: 57, yTickPad: 7, xTickPad: 3, upOnTop: false,
  },
  {
    title: "Vanntemperatur Vikja 2010", upHigh: UP_2010_HIGH, upLow: UP_2010_LOW, downHigh: DOWN_2010_HIGH, downLow: DOWN_2010_LOW,
    upStart: 0, downStart: 0,
    monthStarts: MONTH_STARTS, yearEnd: YEAR_END, yTitle: "Temperatur (\u2070C)",
    rect: { x: 628, y: 8, w: 610, h: 384 }, area: { l: 723, r: 1193, t: 43, b: 304 },
    titleX: 752, titleY: 51.5, titleSize: 15,
    legendOrder: ["down", "up"], legendX1: 762, legendX2: 787, legendTextX: 789.5, legendY: [75, 98], legendSize: 13,
    tickSize: 15, xTickSize: 16, yTitleSize: 15, yTitleX: 677, yTickPad: 7, xTickPad: 3, upOnTop: true,
  },
  {
    title: "Vanntemperatur Vikja 2011", upHigh: UP_2011_HIGH, upLow: UP_2011_LOW, downHigh: DOWN_2011_HIGH, downLow: DOWN_2011_LOW,
    upStart: 0, downStart: 0,
    monthStarts: MONTH_STARTS, yearEnd: YEAR_END, yTitle: "Temperatur (\u2070C)",
    rect: { x: 8, y: 396, w: 612, h: 406 }, area: { l: 103, r: 573, t: 430, b: 691 },
    titleX: 132, titleY: 438.5, titleSize: 15,
    legendOrder: ["down", "up"], legendX1: 143, legendX2: 167, legendTextX: 169.5, legendY: [463, 485], legendSize: 13,
    tickSize: 15, xTickSize: 16, yTitleSize: 15, yTitleX: 57, yTickPad: 7, xTickPad: 3, upOnTop: true,
  },
  {
    title: "Vanntemperatur Vikja 2012", upHigh: UP_2012_HIGH, upLow: UP_2012_LOW, downHigh: DOWN_2012_HIGH, downLow: DOWN_2012_LOW,
    upStart: 0, downStart: 0,
    monthStarts: MONTH_STARTS_LEAP, yearEnd: LEAP_YEAR_END, yTitle: "Temperatur (\u2070C)",
    rect: { x: 628, y: 396, w: 610, h: 406 }, area: { l: 707, r: 1211, t: 431, b: 711 },
    titleX: 739, titleY: 440, titleSize: 16,
    legendOrder: ["down", "up"], legendX1: 750, legendX2: 777, legendTextX: 779, legendY: [466, 490.5], legendSize: 14,
    tickSize: 16, xTickSize: 16, yTitleSize: 16, yTitleX: 660, yTickPad: 9, xTickPad: 6, upOnTop: true,
  },
  {
    title: "Vanntemperatur Vikja 2013", upHigh: UP_2013_HIGH, upLow: UP_2013_LOW, downHigh: DOWN_2013_HIGH, downLow: DOWN_2013_LOW,
    upStart: 0, downStart: 0,
    monthStarts: MONTH_STARTS, yearEnd: YEAR_END, yTitle: "Temperatur (\u2070C)",
    rect: { x: 8, y: 807, w: 612, h: 400 }, area: { l: 88, r: 591, t: 842, b: 1121 },
    titleX: 120, titleY: 850.5, titleSize: 16,
    legendOrder: ["down", "up"], legendX1: 131, legendX2: 158, legendTextX: 160, legendY: [877, 901.5], legendSize: 14,
    tickSize: 16, xTickSize: 16, yTitleSize: 16, yTitleX: 40, yTickPad: 9, xTickPad: 6, upOnTop: true,
  },
  {
    title: "Vanntemperatur Vikja 2014", upHigh: UP_2014_HIGH, upLow: UP_2014_LOW, downHigh: DOWN_2014_HIGH, downLow: DOWN_2014_LOW,
    upStart: 0, downStart: 0,
    monthStarts: MONTH_STARTS, yearEnd: YEAR_END, yTitle: "Temperatur (\u2070C)",
    rect: { x: 628, y: 807, w: 610, h: 400 }, area: { l: 708, r: 1211, t: 841, b: 1121 },
    titleX: 741, titleY: 850, titleSize: 16,
    legendOrder: ["down", "up"], legendX1: 751, legendX2: 778, legendTextX: 780, legendY: [876, 900], legendSize: 14,
    tickSize: 16, xTickSize: 16, yTitleSize: 16, yTitleX: 660, yTickPad: 9, xTickPad: 6, upOnTop: true,
  },
];

const RULES = [
  { left: 6, top: 8, width: 2, height: 1201, background: "#000" },
  { left: 625, top: 8, width: 2, height: 1201, background: "#000" },
  { left: 6, top: 393, width: 1232, height: 2, background: "#000" },
  { left: 6, top: 803, width: 1232, height: 2, background: "#000" },
  { left: 639, top: 820, width: 1, height: 378, background: "#d4d4d4" },
];

// Each 3-day step: the band's high reading at the step, its low reading half a step later.
function toBandPoints(high: number[], low: number[], startDay: number) {
  const pts: { x: number; y: number }[] = [];
  high.forEach((h, i) => {
    const d = startDay + i * STEP_DAYS;
    pts.push({ x: d, y: h });
    if (low[i] !== undefined) pts.push({ x: d + STEP_DAYS / 2, y: low[i] });
  });
  return pts;
}

function Panel({ spec }: { spec: PanelSpec }) {
  const ref = useRef<HTMLCanvasElement>(null);
  useEffect(() => {
    const canvas = ref.current;
    if (!canvas) return;
    const { rect, area } = spec;
    const yAxisWidth = area.l - rect.x;
    const xAxisHeight = rect.y + rect.h - area.b;
    const yTitleLine = spec.yTitleSize * 1.2;

    const textPlugin = {
      id: "panelText",
      afterDraw(chart: any) {
        const ctx = chart.ctx as CanvasRenderingContext2D;
        ctx.save();
        ctx.fillStyle = "#000";
        ctx.textAlign = "left";
        ctx.textBaseline = "middle";
        ctx.font = `${spec.titleSize}px ${FONT}`;
        ctx.fillText(spec.title, spec.titleX - rect.x, spec.titleY - rect.y);
        ctx.font = `${spec.legendSize}px ${FONT}`;
        spec.legendOrder.forEach((key, i) => {
          const y = spec.legendY[i] - rect.y;
          ctx.strokeStyle = key === "up" ? RED : BLUE;
          ctx.lineWidth = 1.5;
          ctx.beginPath();
          ctx.moveTo(spec.legendX1 - rect.x, y);
          ctx.lineTo(spec.legendX2 - rect.x, y);
          ctx.stroke();
          ctx.fillStyle = "#000";
          ctx.fillText(key === "up" ? UP_LABEL : DOWN_LABEL, spec.legendTextX - rect.x, y);
        });
        ctx.restore();
      },
    };

    const axisGrid = { display: true, drawOnChartArea: false, drawTicks: true, tickLength: 5, color: "#000", lineWidth: 1 };
    const axisBorder = { display: true, color: "#000", width: 1 };

    const chart = new Chart(canvas, {
      type: "line",
      data: {
        datasets: [
          {
            label: UP_LABEL,
            data: toBandPoints(spec.upHigh, spec.upLow, spec.upStart),
            borderColor: RED,
            backgroundColor: RED,
            borderWidth: 1.5,
            pointRadius: 0,
            pointHoverRadius: 0,
            tension: 0,
            fill: false,
            order: spec.upOnTop ? 0 : 1,
          },
          {
            label: DOWN_LABEL,
            data: toBandPoints(spec.downHigh, spec.downLow, spec.downStart),
            borderColor: BLUE,
            backgroundColor: BLUE,
            borderWidth: 1.4,
            pointRadius: 0,
            pointHoverRadius: 0,
            tension: 0,
            fill: false,
            order: spec.upOnTop ? 1 : 0,
          },
        ],
      },
      options: {
        animation: false,
        responsive: false,
        maintainAspectRatio: false,
        devicePixelRatio: 1,
        events: [],
        layout: { padding: { left: 0, top: area.t - rect.y, right: rect.x + rect.w - area.r, bottom: 0 } },
        plugins: { legend: { display: false }, title: { display: false }, tooltip: { enabled: false } },
        scales: {
          x: {
            type: "linear",
            min: 0,
            max: spec.yearEnd,
            afterBuildTicks: (scale: any) => {
              scale.ticks = [...spec.monthStarts, spec.yearEnd].map((v) => ({ value: v }));
            },
            afterFit: (scale: any) => {
              scale.height = xAxisHeight;
            },
            ticks: {
              autoSkip: false,
              minRotation: 90,
              maxRotation: 90,
              padding: spec.xTickPad,
              color: "#000",
              font: { family: FONT, size: spec.xTickSize },
              callback: (value: any) => {
                const i = spec.monthStarts.indexOf(Number(value));
                return i >= 0 ? MONTH_LABELS[i] : "";
              },
            },
            grid: axisGrid,
            border: axisBorder,
          },
          y: {
            type: "linear",
            min: 0,
            max: Y_MAX,
            afterFit: (scale: any) => {
              scale.width = yAxisWidth;
            },
            ticks: {
              stepSize: Y_STEP,
              includeBounds: false,
              padding: spec.yTickPad,
              color: "#000",
              font: { family: FONT, size: spec.tickSize },
            },
            grid: axisGrid,
            border: axisBorder,
            title: {
              display: true,
              text: spec.yTitle,
              color: "#000",
              font: { family: FONT, size: spec.yTitleSize },
              padding: { top: spec.yTitleX - rect.x - yTitleLine / 2, bottom: 0 },
            },
          },
        },
      } as any,
      plugins: [textPlugin],
    });
    return () => chart.destroy();
  }, [spec]);

  return (
    <canvas
      ref={ref}
      width={spec.rect.w}
      height={spec.rect.h}
      style={{ position: "absolute", left: spec.rect.x, top: spec.rect.y, width: spec.rect.w, height: spec.rect.h }}
    />
  );
}

export default function App() {
  return (
    <div style={{ position: "absolute", left: 0, top: 0, width: 1238, height: 1209, background: "#fff", overflow: "hidden" }}>
      {PANELS.map((p, i) => (
        <Panel key={i} spec={p} />
      ))}
      {RULES.map((r, i) => (
        <div key={"r" + i} style={{ position: "absolute", ...r }} />
      ))}
    </div>
  );
}
